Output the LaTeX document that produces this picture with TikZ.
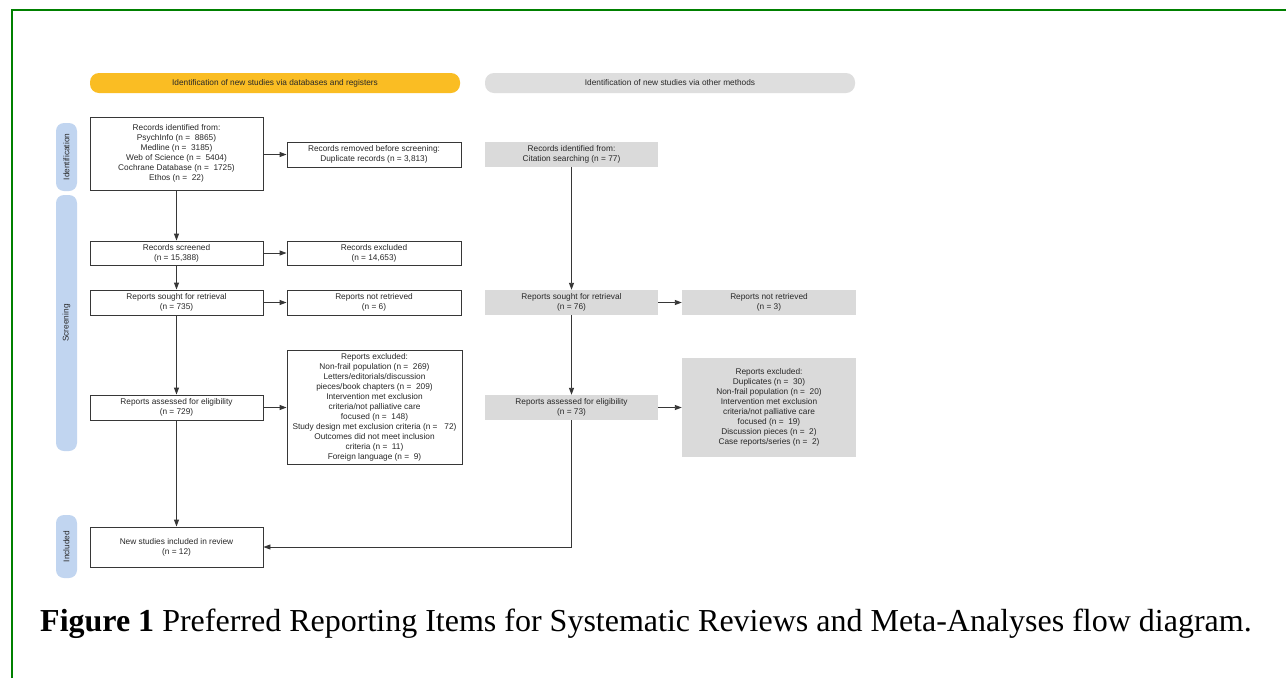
\documentclass[tikz,border=0pt]{standalone}
\usepackage{fontspec}
\setmainfont{Liberation Sans}
\newfontfamily\capfont{Liberation Serif}
\usetikzlibrary{arrows.meta}
\definecolor{ybar}{RGB}{250,189,35}
\definecolor{gbar}{RGB}{222,222,222}
\definecolor{gbox}{RGB}{218,218,218}
\definecolor{pblue}{RGB}{193,213,240}
\definecolor{frameg}{RGB}{0,128,0}
\definecolor{lineg}{RGB}{55,55,55}
\definecolor{txtg}{RGB}{40,40,40}
\tikzset{
  boxfont/.style={font=\fontsize{8.3}{10}\selectfont, text=txtg},
  wbox/.style={draw=lineg, line width=0.9pt, fill=white, align=center, inner sep=1pt, boxfont},
  gbx/.style={fill=gbox, align=center, inner sep=1pt, boxfont},
  arr/.style={draw=lineg, line width=0.9pt, -{Triangle[length=7pt,width=5pt]}},
  phase/.style={fill=pblue, rounded corners=8pt, inner sep=0pt, boxfont, minimum height=21pt, rotate=90},
  hbar/.style={rounded corners=9pt, inner sep=0pt, boxfont, minimum width=370pt, minimum height=20pt}
}
\begin{document}
\begin{tikzpicture}[x=1pt,y=-1pt]
\useasboundingbox (0,0) rectangle (1286,678);
\fill[white] (0,0) rectangle (1286,678);
% frame
\draw[frameg, line width=2pt] (12,678) -- (12,10) -- (1286,10);

% header bars
\node[hbar, fill=ybar] (hdb) at (275,83) {Identification of new studies via databases and registers};
\node[hbar, fill=gbar] (hom) at (670,83) {Identification of new studies via other methods};

% phase bars
\node[phase, minimum width=68pt] (pid) at (66.5,157) {Identification};
\node[phase, minimum width=256pt] (psc) at (66.5,323) {Screening};
\node[phase, minimum width=63pt] (pin) at (66.5,546.5) {Included};

% left column
\node[wbox, minimum width=173pt, minimum height=73pt] (rid) at (176.5,153.5) {Records identified from:\\PsychInfo (n =\ \ 8865)\\Medline (n =\ \ 3185)\\Web of Science (n =\ \ 5404)\\Cochrane Database (n =\ \ 1725)\\Ethos (n =\ \ 22)};
\node[wbox, minimum width=174pt, minimum height=25pt] (rrm) at (374,154.5) {Records removed before screening:\\Duplicate records (n = 3,813)};
\node[wbox, minimum width=173pt, minimum height=24pt] (rsc) at (176.5,253) {Records screened\\(n = 15,388)};
\node[wbox, minimum width=174pt, minimum height=24pt] (rex) at (374,253) {Records excluded\\(n = 14,653)};
\node[wbox, minimum width=173pt, minimum height=25pt] (rsr) at (176.5,302.5) {Reports sought for retrieval\\(n = 735)};
\node[wbox, minimum width=174pt, minimum height=25pt] (rnr) at (374,302.5) {Reports not retrieved\\(n = 6)};
\node[wbox, minimum width=173pt, minimum height=25pt] (ras) at (176.5,407.5) {Reports assessed for eligibility\\(n = 729)};
\node[wbox, minimum width=175pt, minimum height=114pt] (rre) at (374.5,407) {Reports excluded:\\Non-frail population (n =\ \ 269)\\Letters/editorials/discussion\\pieces/book chapters (n =\ \ 209)\\Intervention met exclusion\\criteria/not palliative care\\focused (n =\ \ 148)\\Study design met exclusion criteria (n =\ \ \ 72)\\Outcomes did not meet inclusion\\criteria (n =\ \ 11)\\Foreign language (n =\ \ 9)};
\node[wbox, minimum width=173pt, minimum height=40pt] (inc) at (176.5,547) {New studies included in review\\(n = 12)};

% right column
\node[gbx, minimum width=173pt, minimum height=25pt] (oid) at (571.5,154.5) {Records identified from:\\Citation searching (n = 77)};
\node[gbx, minimum width=173pt, minimum height=25pt] (osr) at (571.5,302.5) {Reports sought for retrieval\\(n = 76)};
\node[gbx, minimum width=174pt, minimum height=25pt] (onr) at (769,302.5) {Reports not retrieved\\(n = 3)};
\node[gbx, minimum width=173pt, minimum height=25pt] (oas) at (571.5,407.5) {Reports assessed for eligibility\\(n = 73)};
\node[gbx, minimum width=174pt, minimum height=99pt] (oex) at (769,407.5) {Reports excluded:\\Duplicates (n =\ \ 30)\\Non-frail population (n =\ \ 20)\\Intervention met exclusion\\criteria/not palliative care\\focused (n =\ \ 19)\\Discussion pieces (n =\ \ 2)\\Case reports/series (n =\ \ 2)};

% connectors left
\draw[arr] (rid) -- (rsc);
\draw[arr] (rid.east |- rrm.west) -- (rrm.west);
\draw[arr] (rsc) -- (rsr);
\draw[arr] (rsc) -- (rex);
\draw[arr] (rsr) -- (ras);
\draw[arr] (rsr) -- (rnr);
\draw[arr] (ras.east) -- (ras.east -| rre.west);
\draw[arr] (ras) -- (inc);

% connectors right
\draw[arr] (oid) -- (osr);
\draw[arr] (osr) -- (onr);
\draw[arr] (osr) -- (oas);
\draw[arr] (oas) -- (oex);
\draw[arr] (oas.south) -- (oas.south |- inc.east) -- (inc.east);

% caption
\node[anchor=base west, inner sep=0pt, font=\capfont\fontsize{32}{36}\selectfont, text=black] (cap) at (40,631) {\textbf{Figure 1} Preferred Reporting Items for Systematic Reviews and Meta-Analyses flow diagram.};
\end{tikzpicture}
\end{document}
